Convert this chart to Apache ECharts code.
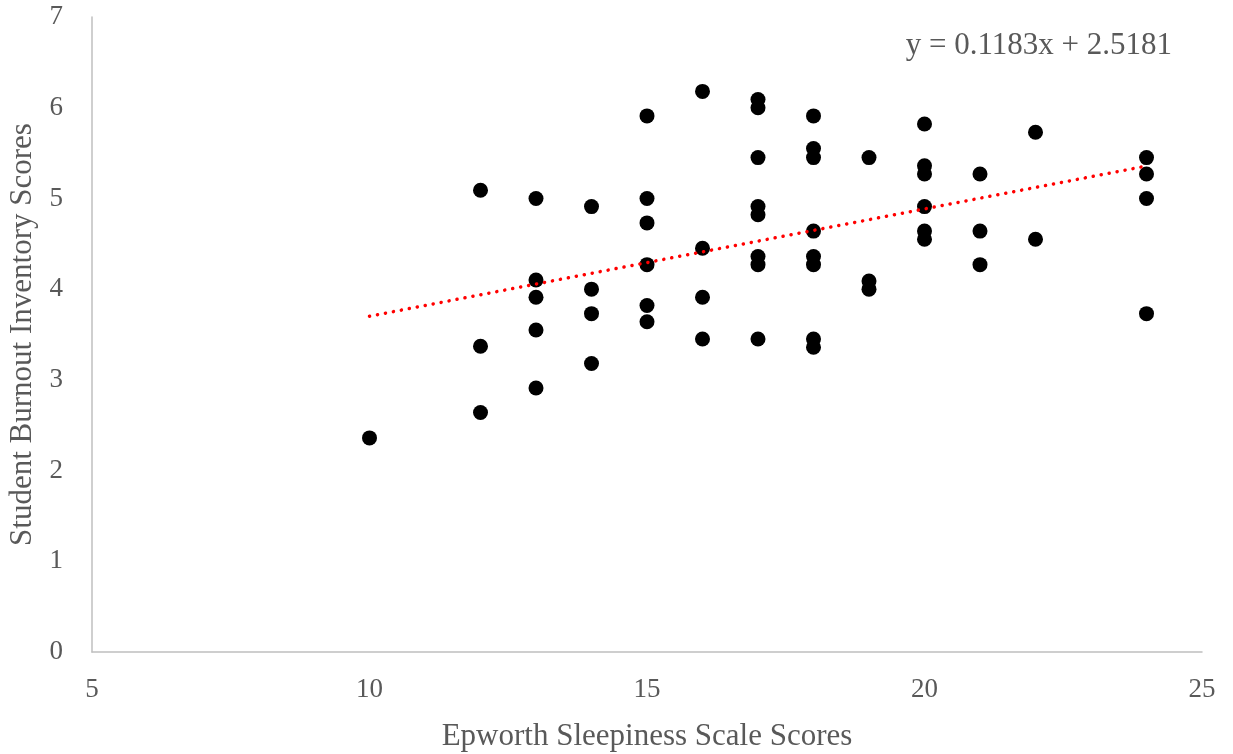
<!DOCTYPE html>
<html>
<head>
<meta charset="utf-8">
<script src="https://cdn.jsdelivr.net/npm/echarts@6/dist/echarts.min.js"></script>
<style>html,body{margin:0;padding:0;background:#fff}#c{width:1233px;height:754px}</style>
</head>
<body>
<div id="c"></div>
<script>
const xValues = [10,12,12,12,13,13,13,13,13,14,14,14,14,15,15,15,15,15,15,16,16,16,16,17,17,17,17,17,17,17,17,18,18,18,18,18,18,18,18,19,19,19,20,20,20,20,20,20,21,21,21,22,22,24,24,24,24];
const yValues = [2.36,5.09,3.37,2.64,5.00,4.10,3.91,3.55,2.91,4.91,4.00,3.73,3.18,5.91,5.00,4.73,4.27,3.82,3.64,6.18,4.45,3.91,3.45,6.09,6.00,5.45,4.91,4.82,4.36,4.27,3.45,5.91,5.55,5.45,4.64,4.36,4.27,3.45,3.36,5.45,4.09,4.00,5.82,5.36,5.27,4.91,4.64,4.55,5.27,4.64,4.27,5.73,4.55,5.45,5.27,5.00,3.73];
const trendSlope = 0.1183;
const trendIntercept = 2.5181;
const trendRange = [10, 24];
const xTicks = [5, 10, 15, 20, 25];
const yTicks = [0, 1, 2, 3, 4, 5, 6, 7];
const equationLabel = 'y = 0.1183x + 2.5181';

const points = xValues.map((x, i) => [x, yValues[i]]);
const trend = trendRange.map(x => [x, trendSlope * x + trendIntercept]);
const font = '"Liberation Serif", "Times New Roman", serif';
const chart = echarts.init(document.getElementById('c'));
chart.setOption({
  animation: false,
  grid: {left: 92, right: 31, top: 17, bottom: 102, containLabel: false, outerBoundsMode: 'none'},
  xAxis: {
    type: 'value', min: xTicks[0], max: xTicks[xTicks.length-1], interval: 5,
    name: 'Epworth Sleepiness Scale Scores', nameLocation: 'middle', nameGap: 69,
    nameTextStyle: {fontFamily: font, fontSize: 31, color: '#595959'},
    axisLine: {lineStyle: {color: '#bfbfbf', width: 1.5}},
    axisTick: {show: false},
    splitLine: {show: false},
    axisLabel: {fontFamily: font, fontSize: 27, color: '#595959', margin: 24}
  },
  yAxis: {
    type: 'value', min: yTicks[0], max: yTicks[yTicks.length-1], interval: 1,
    name: 'Student Burnout Inventory Scores', nameLocation: 'middle', nameGap: 52,
    nameTextStyle: {fontFamily: font, fontSize: 31, color: '#595959'},
    axisLine: {show: true, lineStyle: {color: '#bfbfbf', width: 1.5}},
    axisTick: {show: false},
    splitLine: {show: false},
    axisLabel: {fontFamily: font, fontSize: 27, color: '#595959', margin: 29}
  },
  series: [
    {
      type: 'scatter', data: points, symbol: 'circle', symbolSize: 15,
      itemStyle: {color: '#000', opacity: 1}, z: 2
    },
    {
      type: 'line', data: trend, showSymbol: false, symbol: 'none', z: 3,
      lineStyle: {color: '#ff0000', width: 3.5, type: [0.1, 8], cap: 'round'}
    }
  ],
  graphic: [{
    type: 'text', right: 61, top: 30,
    style: {text: equationLabel, fontFamily: font, fontSize: 31, fill: '#595959'}
  }]
});
</script>
</body>
</html>
